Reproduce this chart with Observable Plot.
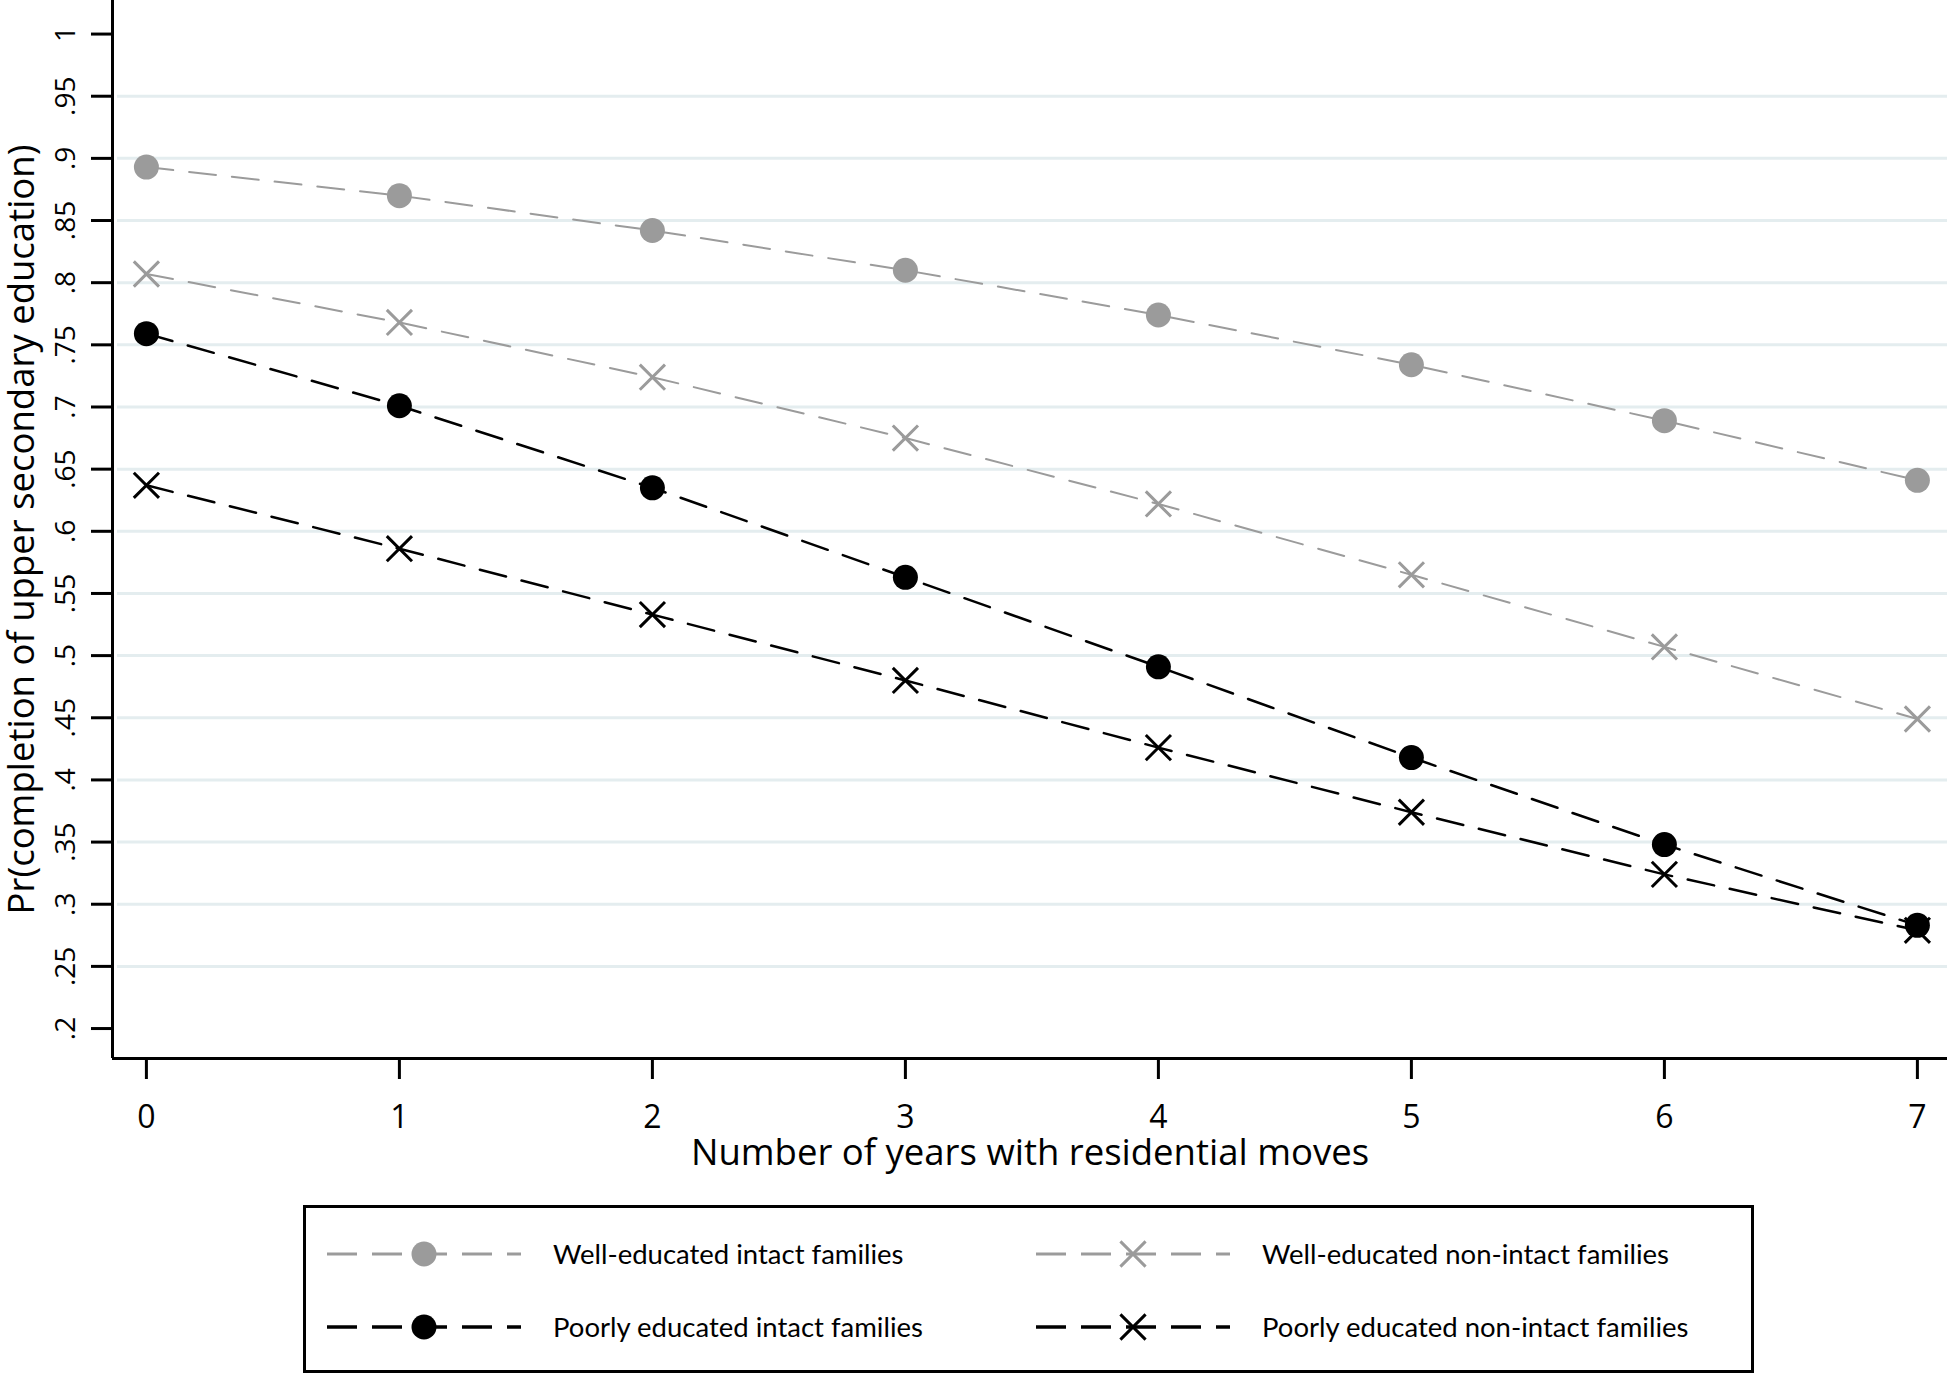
<!DOCTYPE html>
<html>
<head>
<meta charset="utf-8">
<script src="https://cdn.jsdelivr.net/npm/d3@7"></script>
<script src="https://cdn.jsdelivr.net/npm/@observablehq/plot@0.6"></script>
<style>
  html, body { margin: 0; padding: 0; background: #fff; }
  #wrap { position: relative; width: 1950px; height: 1379px; font-family: "Open Sans", Lato, sans-serif; }
  #legend { position: absolute; left: 0; top: 1190px; }
</style>
</head>
<body>
<div id="wrap"><div id="chart"></div><svg id="legend" width="1950" height="189"></svg></div>
<script>
// ---- data ----
const years = [0, 1, 2, 3, 4, 5, 6, 7];
const wellIntact    = [0.893, 0.870, 0.842, 0.810, 0.774, 0.734, 0.689, 0.641];
const wellNonIntact = [0.807, 0.768, 0.724, 0.675, 0.622, 0.565, 0.507, 0.449];
const poorIntact    = [0.759, 0.701, 0.635, 0.563, 0.491, 0.418, 0.348, 0.283];
const poorNonIntact = [0.637, 0.586, 0.533, 0.480, 0.426, 0.374, 0.324, 0.279];
const seriesNames = [
  "Well-educated intact families",
  "Well-educated non-intact families",
  "Poorly educated intact families",
  "Poorly educated non-intact families"
];
const yTicks = [0.2, 0.25, 0.3, 0.35, 0.4, 0.45, 0.5, 0.55, 0.6, 0.65, 0.7, 0.75, 0.8, 0.85, 0.9, 0.95, 1];
const gridTicks = [0.25, 0.3, 0.35, 0.4, 0.45, 0.5, 0.55, 0.6, 0.65, 0.7, 0.75, 0.8, 0.85, 0.9, 0.95];
const xTicks = [0, 1, 2, 3, 4, 5, 6, 7];
const xDomain = [-0.134, 7.119];
const yDomain = [0.1759, 1.027];
const xTitle = "Number of years with residential moves";
const yTitle = "Pr(completion of upper secondary education)";

// styles per series
const styles = [
  {color: "#9b9b9b", symbol: "circle", lineWidth: 2},
  {color: "#9b9b9b", symbol: "times", lineWidth: 2},
  {color: "#000000", symbol: "circle", lineWidth: 2.5},
  {color: "#000000", symbol: "times", lineWidth: 2.5}
];
const valueArrays = [wellIntact, wellNonIntact, poorIntact, poorNonIntact];
const rows = [];
valueArrays.forEach((vals, s) => vals.forEach((v, i) => rows.push({series: s, x: years[i], y: v})));

const fmt = d => d === 1 ? "1" : String(d).replace(/^0/, "");
const FONT = "'Open Sans', Lato, sans-serif";
const LFONT = "Lato, 'Open Sans', sans-serif";

const marks = [
  Plot.ruleY(gridTicks, {stroke: "#e4edef", strokeWidth: 3, insetLeft: 5}),
  Plot.ruleX([xDomain[0]], {stroke: "#000", strokeWidth: 3}),
  Plot.ruleY([yDomain[0]], {stroke: "#000", strokeWidth: 3}),
  Plot.axisY({ticks: yTicks, tickSize: 21, strokeWidth: 3, tickFormat: () => "", label: null}),
  Plot.axisX({ticks: xTicks, tickSize: 21, strokeWidth: 3, tickFormat: () => "", label: null}),
  Plot.text(yTicks, {y: d => d, text: fmt, frameAnchor: "left", dx: -46, rotate: -90,
    textAnchor: "middle", lineAnchor: "middle", fontSize: 28, fill: "#000"}),
  Plot.text(xTicks, {x: d => d, text: d => String(d), frameAnchor: "bottom", dy: 59,
    textAnchor: "middle", lineAnchor: "middle", fontSize: 32, fill: "#000"}),
  Plot.text([xTitle], {text: d => d, frameAnchor: "bottom", dy: 95, textAnchor: "middle",
    lineAnchor: "middle", fontSize: 36.5, fill: "#000"}),
  Plot.text([yTitle], {text: d => d, frameAnchor: "left", dx: -90, rotate: -90, textAnchor: "middle",
    lineAnchor: "middle", fontSize: 36.5, fill: "#000"})
];
styles.forEach((st, s) => {
  const data = rows.filter(r => r.series === s);
  marks.push(Plot.line(data, {x: "x", y: "y", stroke: st.color, strokeWidth: st.lineWidth, strokeDasharray: "27,16"}));
});
styles.forEach((st, s) => {
  const data = rows.filter(r => r.series === s);
  if (st.symbol === "circle") {
    marks.push(Plot.dot(data, {x: "x", y: "y", r: 12.5, fill: st.color, stroke: "none"}));
  } else {
    marks.push(Plot.dot(data, {x: "x", y: "y", r: 11.5, symbol: "times", stroke: st.color, strokeWidth: 3, fill: "none"}));
  }
});

const chart = Plot.plot({
  width: 1950,
  height: 1190,
  marginLeft: 112,
  marginRight: 3,
  marginTop: 0,
  marginBottom: 132,
  style: {fontFamily: FONT, background: "#fff", overflow: "visible"},
  x: {domain: xDomain, axis: null},
  y: {domain: yDomain, axis: null},
  marks
});
document.getElementById("chart").appendChild(chart);

// ---- legend (below the SVG plot) ----
const lg = d3.select("#legend");
lg.append("rect").attr("x", 304.5).attr("y", 16.5).attr("width", 1448).attr("height", 165)
  .attr("fill", "none").attr("stroke", "#000").attr("stroke-width", 3);
const legendPos = [
  {x0: 327, row: 64}, {x0: 1036, row: 64}, {x0: 327, row: 137}, {x0: 1036, row: 137}
];
styles.forEach((st, s) => {
  const p = legendPos[s];
  const g = lg.append("g").attr("transform", `translate(${p.x0},${p.row})`);
  g.append("line").attr("x1", 0).attr("x2", 194).attr("y1", 0).attr("y2", 0)
    .attr("stroke", st.color).attr("stroke-width", st.lineWidth + 1).attr("stroke-dasharray", "30,15");
  if (st.symbol === "circle") {
    g.append("circle").attr("cx", 97).attr("cy", 0).attr("r", 12.5).attr("fill", st.color);
  } else {
    const sym = d3.symbol(d3.symbolTimes, Math.PI * 11.5 * 11.5)();
    g.append("path").attr("d", sym).attr("transform", "translate(97,0)")
      .attr("fill", "none").attr("stroke", st.color).attr("stroke-width", 3);
  }
  g.append("text").attr("x", 226).attr("y", 0).attr("dy", "0.36em")
    .attr("font-family", LFONT).attr("font-size", 27.5).attr("fill", "#000")
    .text(seriesNames[s]);
});
</script>
</body>
</html>
